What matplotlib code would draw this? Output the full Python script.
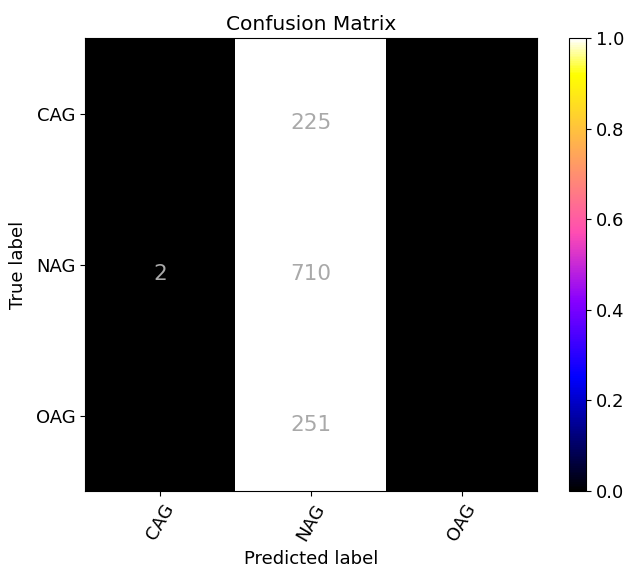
import numpy as np
import matplotlib
matplotlib.use("Agg")
import matplotlib.pyplot as plt

# confusion matrix counts (rows = true, cols = predicted)
classes = ["CAG", "NAG", "OAG"]
cag_row = [0, 225, 0]
nag_row = [2, 710, 0]
oag_row = [0, 251, 0]

cm = np.array([cag_row, nag_row, oag_row])
cm_norm = cm / cm.sum(axis=1)[:, np.newaxis]

fig = plt.figure(figsize=(6.33, 5.7), dpi=100)
ax = fig.add_axes([85 / 633, 1 - 491 / 570, 452 / 633, 453 / 570])
cax = fig.add_axes([569 / 633, 1 - 491 / 570, 17 / 633, 453 / 570])

im = ax.imshow(cm_norm, interpolation="nearest", cmap="gnuplot2",
               vmin=0, vmax=1, aspect="auto")
cb = fig.colorbar(im, cax=cax)
cb.ax.tick_params(labelsize=13)

ax.set_title("Confusion Matrix", fontsize=14.5)
ticks = np.arange(len(classes))
ax.set_xticks(ticks)
ax.set_xticklabels(classes, rotation=60, fontsize=13)
ax.set_yticks(ticks)
ax.set_yticklabels(classes, fontsize=13)

# counts written in the non-zero cells
for i in range(cm.shape[0]):
    for j in range(cm.shape[1]):
        if cm[i, j] > 0:
            ax.text(j, i + 0.065, cm[i, j], ha="center", va="center",
                    color="darkgray", fontsize=15.5)

ax.set_ylabel("True label", fontsize=13, labelpad=6)
ax.set_xlabel("Predicted label", fontsize=13)

fig.savefig("out.png", dpi=100)
